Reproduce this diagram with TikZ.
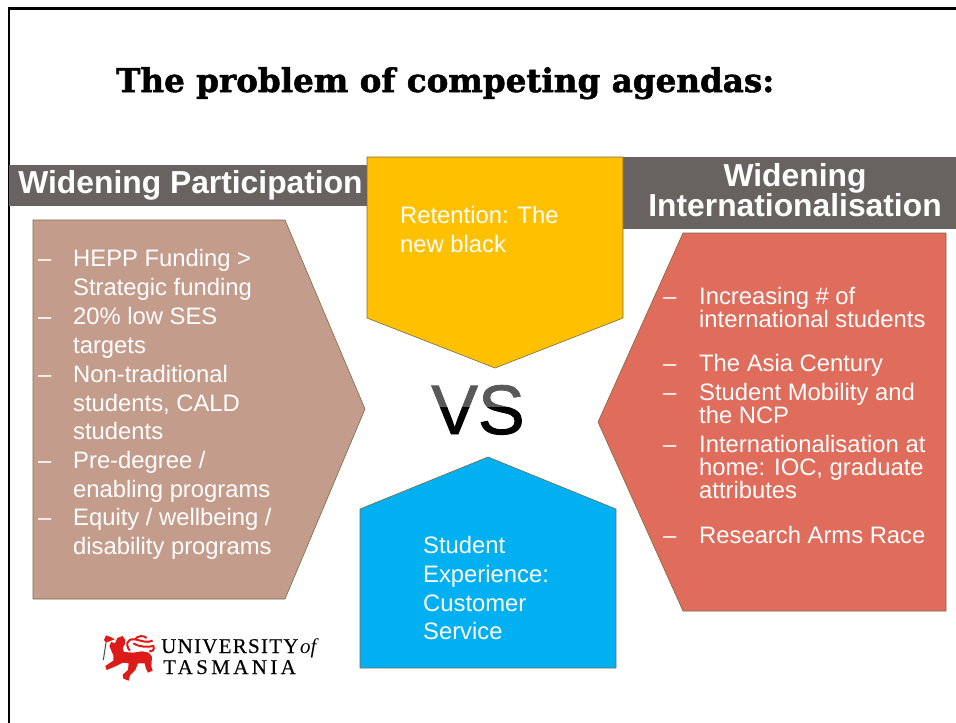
\documentclass[tikz,border=0pt]{standalone}
\usepackage{fontspec}
\setmainfont{Liberation Sans}
\newfontfamily\titlefont[BoldFeatures={FakeBold=1.6}]{DejaVu Serif}
\newfontfamily\vsfont[FakeBold=1.2]{Liberation Sans}
\newfontfamily\logofont[LetterSpace=6,FakeBold=0.3]{Liberation Serif}
\newfontfamily\logofontb[LetterSpace=16,FakeBold=0.3]{Liberation Serif}
\newfontfamily\logoplain{Liberation Serif}
\definecolor{bandgrey}{HTML}{686361}
\definecolor{tanfill}{HTML}{C49C8C}
\definecolor{yellowfill}{HTML}{FFC000}
\definecolor{bluefill}{HTML}{00B0F0}
\definecolor{redfill}{HTML}{E06C5C}
\definecolor{edgeol}{HTML}{7A6A45}
\definecolor{lionred}{HTML}{DD1C1A}
\tikzset{
  panel/.style={draw=edgeol,line width=0.6pt},
  band/.style={fill=bandgrey},
  body/.style={text=white,anchor=base west,inner sep=0pt,font=\fontsize{23.8}{28}\selectfont},
  bandtext/.style={text=white,anchor=base,inner sep=0pt,font=\fontsize{31.8}{32}\selectfont\bfseries},
}
\begin{document}
\begin{tikzpicture}[x=1pt,y=-1pt]
\useasboundingbox (0,0) rectangle (956,723);
\fill[white] (0,0) rectangle (956,723);
% frame
\draw[black,line width=2.6pt] (9,723) -- (9,8.5) -- (956,8.5);
% title
\node[anchor=base west,inner sep=0pt,font=\fontsize{32.6}{36}\selectfont\titlefont\bfseries] (title) at (116,92) {The problem of competing agendas:};
% bands
\fill[band] (9,165) rectangle (367,206);
\fill[band] (623,157) rectangle (956,229);
\node[bandtext] (wp) at (190.5,193) {Widening Participation};
\node[bandtext] (wi1) at (795,186) {Widening};
\node[bandtext] (wi2) at (795,216) {Internationalisation};
% panels
\draw[panel,fill=tanfill] (33,220) -- (285,220) -- (365,409) -- (285,599) -- (33,599) -- cycle;
\draw[panel,fill=yellowfill] (367,157) -- (623,157) -- (623,318) -- (495,368) -- (367,318) -- cycle;
\draw[panel,fill=bluefill] (360,509) -- (488,457) -- (616,509) -- (616,668) -- (360,668) -- cycle;
\draw[panel,fill=redfill] (683,233) -- (946,233) -- (946,611) -- (683,611) -- (598,422) -- cycle;
% left list
\node[body] (ld1) at (38,266) {–};
\node[body] (l1) at (73,266) {HEPP Funding >};
\node[body] (l2) at (73,295) {Strategic funding};
\node[body] (ld2) at (38,324) {–};
\node[body] (l3) at (73,324) {20\% low SES};
\node[body] (l4) at (73,353) {targets};
\node[body] (ld3) at (38,382) {–};
\node[body] (l5) at (73,382) {Non-traditional};
\node[body] (l6) at (73,411) {students, CALD};
\node[body] (l7) at (73,439) {students};
\node[body] (ld4) at (38,468) {–};
\node[body] (l8) at (73,468) {Pre-degree /};
\node[body] (l9) at (73,497) {enabling programs};
\node[body] (ld5) at (38,525) {–};
\node[body] (l10) at (73,525) {Equity / wellbeing /};
\node[body] (l11) at (73,554) {disability programs};
% right list
\node[body] (rd1) at (663,304) {–};
\node[body] (r1) at (699,304) {Increasing \# of};
\node[body] (r2) at (699,327) {international students};
\node[body] (rd2) at (663,371) {–};
\node[body] (r3) at (699,371) {The Asia Century};
\node[body] (rd3) at (663,400) {–};
\node[body] (r4) at (699,400) {Student Mobility and};
\node[body] (r5) at (699,423) {the NCP};
\node[body] (rd4) at (663,452) {–};
\node[body] (r6) at (699,452) {Internationalisation at};
\node[body] (r7) at (699,475) {home: IOC, graduate};
\node[body] (r8) at (699,498) {attributes};
\node[body] (rd5) at (663,543) {–};
\node[body] (r9) at (699,543) {Research Arms Race};
% yellow + blue text
\node[body] (y1) at (400,223) {Retention: The};
\node[body] (y2) at (400,252) {new black};
\node[body] (b1) at (423,553) {Student};
\node[body] (b2) at (423,582) {Experience:};
\node[body] (b3) at (423,611) {Customer};
\node[body] (b4) at (423,639) {Service};
% VS, two-tone
\begin{scope}
\clip (400,360) rectangle (560,407);
\node[anchor=base,inner sep=0pt,text=black!65,font=\fontsize{70}{72}\selectfont\vsfont] (vs) at (478,434) {VS};
\end{scope}
\begin{scope}
\clip (400,407) rectangle (560,470);
\node[anchor=base,inner sep=0pt,text=black,font=\fontsize{70}{72}\selectfont\vsfont] (vsb) at (478,434) {VS};
\end{scope}
% logo lion
\begin{scope}[shift={(80,610)},x=0.3333pt,y=-0.3333pt]
\fill[lionred] (105,100) -- (112,84) -- (128,78) -- (136,90) -- (134,104) -- (128,114) -- (132,126)
 -- (160,128) -- (186,124) -- (206,128) -- (216,140) -- (214,170) -- (218,182) -- (204,188) -- (198,176) -- (194,160) -- (174,160)
 -- (166,180) -- (150,196) -- (146,212) -- (130,206) -- (128,194) -- (144,180) -- (146,160) -- (128,158)
 -- (104,170) -- (80,180) -- (76,168) -- (100,152) -- (100,136) -- (94,122) -- (88,108) -- (94,96) -- cycle;
\fill[lionred] (72,90) -- (78,76) -- (94,82) -- (104,88) -- (88,94) -- (78,98) -- cycle;
\draw[black!70,line width=1pt] (78,98) -- (70,150);
\draw[lionred,line width=2pt] (150,122) .. controls (135,105) and (140,85) .. (165,88) .. controls (185,92) and (200,100) .. (218,92);
\draw[lionred,line width=2pt] (160,100) .. controls (180,112) and (205,112) .. (220,108) .. controls (224,118) and (220,124) .. (208,124);
\draw[lionred,line width=2pt] (165,88) .. controls (172,78) and (190,74) .. (200,84);
\end{scope}
% logo text
\node[anchor=base west,inner sep=0pt,font=\fontsize{21}{21}\selectfont\logofont] (u1) at (161,653) {UNIVERSITY};
\node[anchor=base west,inner sep=0pt,font=\fontsize{21}{21}\selectfont\logoplain\itshape] (u2) at (300,653) {of};
\node[anchor=base west,inner sep=0pt,font=\fontsize{21}{21}\selectfont\logofontb] (u3) at (163,674) {TASMANIA};
\end{tikzpicture}
\end{document}
